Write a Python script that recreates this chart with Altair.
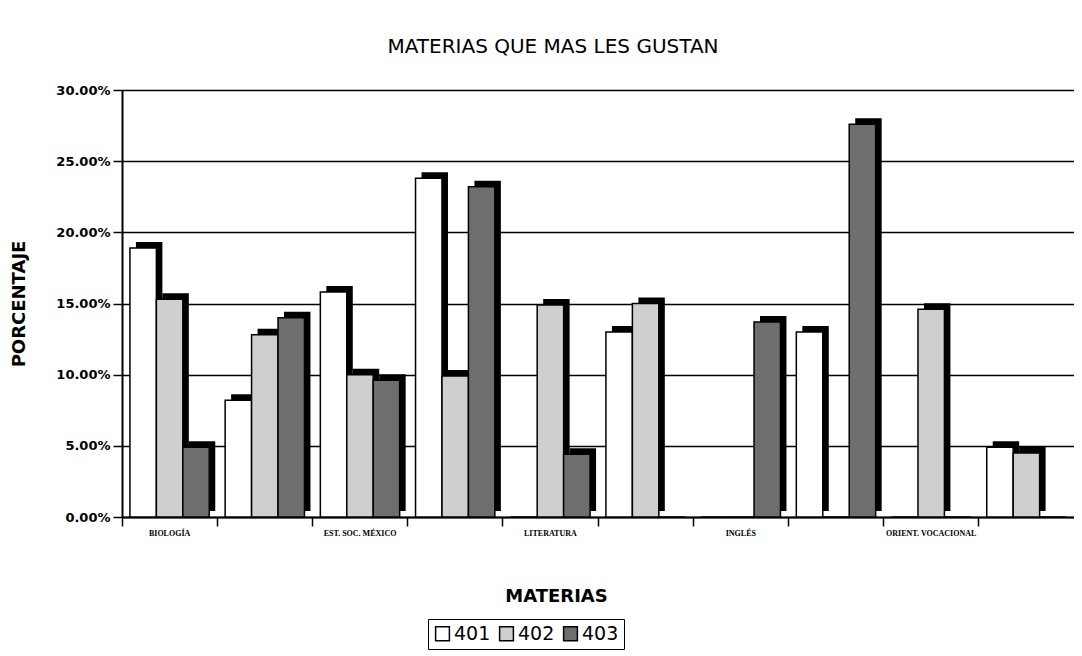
import altair as alt
import pandas as pd

# Categories (only every other subject name is printed on the original axis)
materias = ["BIOLOGÍA", "", "EST. SOC. MÉXICO", "", "LITERATURA", "",
            "INGLÉS", "", "ORIENT. VOCACIONAL", ""]
grupos = ["401", "402", "403"]

# Percentages
v401 = [18.9, 8.2, 15.8, 23.8, 0.0, 13.0, 0.0, 13.0, 0.0, 4.9]
v402 = [15.3, 12.8, 10.0, 9.9, 14.9, 15.0, 0.0, 0.0, 14.6, 4.5]
v403 = [4.9, 14.0, 9.6, 23.2, 4.4, 0.0, 13.7, 27.6, 0.0, 0.0]

y_ticks = [0.0, 0.05, 0.10, 0.15, 0.20, 0.25, 0.30]
colores = ["#ffffff", "#cfcfcf", "#6e6e6e"]

W = 952
H = 427
STEP = W / len(materias)
DEPTH = 6

rows = []
for i, m in enumerate(materias):
    for g, vals in zip(grupos, [v401, v402, v403]):
        rows.append({"pos": i, "materia": m, "grupo": g, "valor": vals[i] / 100.0})
df = pd.DataFrame(rows)

label_expr = "[" + ",".join("'" + m + "'" for m in materias) + "][datum.value]"

x_enc = alt.X(
    "pos:O",
    title="MATERIAS",
    scale=alt.Scale(paddingInner=0, paddingOuter=0),
    axis=alt.Axis(
        labelExpr=label_expr,
        labelAngle=0,
        labelFont="Liberation Serif",
        labelFontWeight="bold",
        labelFontSize=8,
        labelColor="black",
        labelPadding=3,
        bandPosition=0,
        tickColor="black",
        tickSize=9,
        tickWidth=1.5,
        domainColor="black",
        domainWidth=2,
        titleFont="DejaVu Sans",
        titleFontSize=18,
        titleFontWeight="bold",
        titleColor="black",
        titlePadding=50,
        titleX=434,
    ),
)

y_enc = alt.Y(
    "valor:Q",
    title="PORCENTAJE",
    scale=alt.Scale(domain=[0, 0.30], nice=False),
    axis=alt.Axis(
        values=y_ticks,
        format=".2%",
        labelFont="DejaVu Sans",
        labelFontSize=13,
        labelFontWeight="bold",
        labelColor="black",
        labelPadding=3,
        tickColor="black",
        tickSize=9,
        tickWidth=1.5,
        domainColor="black",
        domainWidth=2,
        grid=True,
        gridColor="black",
        gridWidth=1.5,
        titleFont="DejaVu Sans",
        titleFontSize=18,
        titleFontWeight="bold",
        titleColor="black",
        titlePadding=27,
    ),
)

side = alt.Chart(df).mark_bar(color="black", yOffset=-DEPTH).encode(
    x=x_enc,
    xOffset=alt.XOffset("grupo:N", sort=grupos,
                        scale=alt.Scale(paddingInner=0, paddingOuter=0.3,
                                        range=[DEPTH, STEP + DEPTH])),
    y=y_enc,
)

front = alt.Chart(df).mark_bar(stroke="black", strokeWidth=1.5).encode(
    x=x_enc,
    xOffset=alt.XOffset("grupo:N", sort=grupos,
                        scale=alt.Scale(paddingInner=0, paddingOuter=0.3,
                                        range=[0, STEP])),
    y=y_enc,
    fill=alt.Fill(
        "grupo:N",
        sort=grupos,
        scale=alt.Scale(domain=grupos, range=colores),
        legend=alt.Legend(
            title=None,
            orient="none",
            direction="horizontal",
            legendX=306,
            legendY=H + 102,
            symbolType="square",
            symbolSize=190,
            symbolStrokeColor="black",
            symbolStrokeWidth=1.5,
            labelFont="DejaVu Sans",
            labelFontSize=19,
            labelColor="black",
            labelOffset=2,
            columnPadding=5,
            strokeColor="black",
            padding=5,
            fillColor="white",
        ),
    ),
)

chart = alt.layer(side, front).resolve_scale(xOffset="independent").properties(
    width=W,
    height=H,
    autosize="none",
    padding={"left": 114, "top": 82, "right": 0, "bottom": 140},
    title=alt.TitleParams(
        "MATERIAS QUE MAS LES GUSTAN",
        font="DejaVu Sans",
        fontSize=20,
        fontWeight="normal",
        color="black",
        anchor="middle",
        dx=-45,
        offset=27,
    ),
).configure_view(stroke=None)

chart.save("out.html", embed_options={"renderer": "svg", "actions": False})
